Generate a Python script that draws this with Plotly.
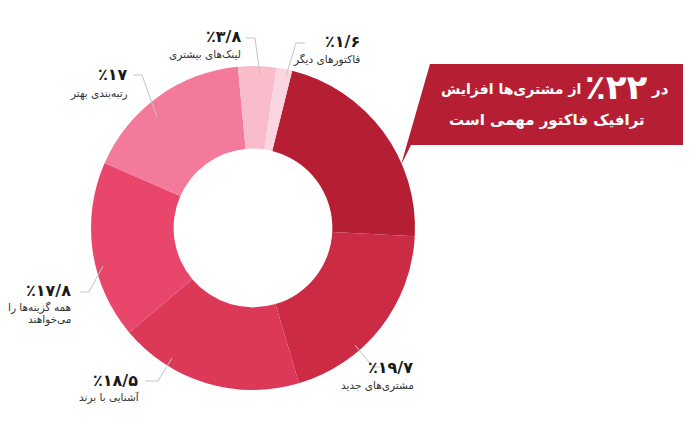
import plotly.graph_objects as go

# Data
labels = ["افزایش ترافیک", "مشتری‌های جدید", "آشنایی با برند", "همه گزینه‌ها را می‌خواهند",
          "رتبه‌بندی بهتر", "لینک‌های بیشتری", "فاکتورهای دیگر"]
values = [22, 19.7, 18.5, 17.8, 17, 3.8, 1.6]
pct_text = ["٪۲۲", "٪۱۹/۷", "٪۱۸/۵", "٪۱۷/۸", "٪۱۷", "٪۳/۸", "٪۱/۶"]
label_lines = [None, ["مشتری‌های جدید"], ["آشنایی با برند"], ["همه گزینه‌ها را", "می‌خواهند"],
               ["رتبه‌بندی بهتر"], ["لینک‌های بیشتری"], ["فاکتورهای دیگر"]]
colors = ["#B61F33", "#CB2B44", "#DC3858", "#E9466C", "#F47A9B", "#F8BCCB", "#FBD5DF"]

W, H = 700, 431
FONT = "DejaVu Sans"

fig = go.Figure()

# pie geometry (pixels, y from top)
cx, cy, R = 253, 228, 162
fig.add_trace(go.Pie(
    values=values, labels=labels, sort=False, direction="clockwise", rotation=14,
    hole=0.49, marker=dict(colors=colors, line=dict(width=0)),
    textinfo="none", hoverinfo="label+value", showlegend=False,
    domain=dict(x=[(cx - R) / W, (cx + R) / W], y=[(H - cy - R) / H, (H - cy + R) / H]),
))

# invisible pixel-space axes for decorations
fig.update_xaxes(range=[0, W], visible=False, domain=[0, 1], fixedrange=True)
fig.update_yaxes(range=[H, 0], visible=False, domain=[0, 1], fixedrange=True)
fig.add_trace(go.Scatter(x=[0], y=[0], mode="markers", marker=dict(opacity=0), showlegend=False, hoverinfo="skip"))

# label layout: (pct right x, pct y, label right x, first label y, leader path)
layout_pos = [
    None,
    (415, 367, 416, 385, [(355, 345), (373, 367), (380, 367)]),
    (140, 380, 142, 397, [(172, 358), (158, 381), (145, 381)]),
    (73, 290, 73, 307, [(103, 266), (89, 292), (80, 292)]),
    (130, 74, 130, 93, [(157, 117), (142, 75), (133, 75)]),
    (243, 36, 243, 54, [(260, 75), (255, 38), (246, 38)]),
    (362, 41, 362, 59, [(286, 76), (296, 43), (305, 43)]),
]

shapes = []
annotations = []
for i, pos in enumerate(layout_pos):
    if pos is None:
        continue
    px, py, lx, ly, path = pos
    d = "M" + " L".join(f"{x},{y}" for x, y in path)
    shapes.append(dict(type="path", xref="x", yref="y", path=d,
                       line=dict(color="#C4C4C4", width=1)))
    annotations.append(dict(x=px, y=py, xref="x", yref="y", text="<b>" + pct_text[i] + "</b>",
                            showarrow=False, xanchor="right", yanchor="middle",
                            font=dict(family=FONT, size=16, color="#1A1A1A")))
    for k, line in enumerate(label_lines[i]):
        annotations.append(dict(x=lx, y=ly + 12 * k, xref="x", yref="y", text=line,
                                showarrow=False, xanchor="right", yanchor="middle", align="right",
                                font=dict(family=FONT, size=10.5, color="#333333")))

# callout box
shapes.append(dict(type="path", xref="x", yref="y",
                   path="M430,64 L683,64 L683,145 L411,145 L401,165 Z",
                   fillcolor="#B61F33", line=dict(width=0), layer="below"))

annotations += [
    dict(x=671, y=89, xref="x", yref="y", text="<b>در</b>", showarrow=False,
         xanchor="right", yanchor="middle", font=dict(family=FONT, size=15, color="white")),
    dict(x=650, y=87, xref="x", yref="y", text="<b>" + pct_text[0] + "</b>", showarrow=False,
         xanchor="right", yanchor="middle", font=dict(family=FONT, size=34, color="white")),
    dict(x=583, y=89, xref="x", yref="y", text="<b>از مشتری‌ها افزایش</b>", showarrow=False,
         xanchor="right", yanchor="middle", font=dict(family=FONT, size=14, color="white")),
    dict(x=647, y=120, xref="x", yref="y", text="<b>ترافیک فاکتور مهمی است</b>", showarrow=False,
         xanchor="right", yanchor="middle", font=dict(family=FONT, size=15, color="white")),
]

fig.update_layout(
    width=W, height=H, margin=dict(l=0, r=0, t=0, b=0),
    paper_bgcolor="white", plot_bgcolor="white",
    shapes=shapes, annotations=annotations,
)

fig.write_html("out.html")
